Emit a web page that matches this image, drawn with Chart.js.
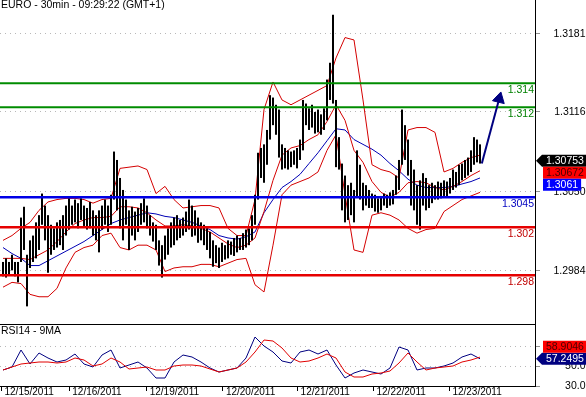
<!DOCTYPE html>
<html><head><meta charset="utf-8">
<script src="https://cdn.jsdelivr.net/npm/chart.js@4.4.1/dist/chart.umd.min.js"></script>
<style>
html,body{margin:0;padding:0;background:#fff;}
#wrap{position:relative;width:586px;height:397px;overflow:hidden;background:#fff}
canvas{position:absolute;left:0}
</style></head><body>
<div id="wrap">
<canvas id="main" width="586" height="325" style="top:0;width:586px;height:325px"></canvas>
<canvas id="rsi" width="586" height="72" style="top:325px;width:586px;height:72px"></canvas>
</div>
<script>
// ---------------- DATA ----------------
const chartTitle = 'EURO - 30min - 09:29:22 (GMT+1)';
const rsiTitle = 'RSI14 - 9MA';

// 30-min bars: high / low
const highs = [1.2991,1.2994,1.2991,1.2997,1.2991,1.2991,1.3028,1.3037,1.2997,1.3009,
1.3013,1.3024,1.3030,1.3048,1.3038,1.3030,1.3022,1.3019,1.3024,1.3026,
1.3030,1.3038,1.3044,1.3038,1.3043,1.3040,1.3044,1.3038,1.3036,1.3041,
1.3034,1.3030,1.3034,1.3038,1.3043,1.3038,1.3047,1.3083,1.3076,1.3061,
1.3051,1.3043,1.3034,1.3037,1.3033,1.3036,1.3040,1.3044,1.3038,1.3030,
1.3024,1.3022,1.3009,1.3005,1.3013,1.3019,1.3024,1.3028,1.3030,1.3026,
1.3028,1.3033,1.3043,1.3038,1.3034,1.3028,1.3024,1.3022,1.3019,1.3016,
1.3009,1.3005,1.3003,1.3007,1.3005,1.3009,1.3008,1.3011,1.3013,1.3011,
1.3015,1.3018,1.3019,1.3030,1.3047,1.3082,1.3086,1.3089,1.3101,1.3130,
1.3128,1.3122,1.3118,1.3089,1.3086,1.3084,1.3083,1.3084,1.3086,1.3093,
1.3126,1.3123,1.3119,1.3122,1.3116,1.3118,1.3114,1.3119,1.3143,1.3157,
1.3197,1.3126,1.3095,1.3073,1.3063,1.3055,1.3057,1.3051,1.3084,1.3072,
1.3057,1.3055,1.3051,1.3048,1.3047,1.3044,1.3046,1.3048,1.3047,1.3049,
1.3051,1.3063,1.3076,1.3118,1.3105,1.3093,1.3076,1.3068,1.3055,1.3059,
1.3065,1.3061,1.3055,1.3057,1.3055,1.3058,1.3057,1.3059,1.3058,1.3061,
1.3068,1.3066,1.3072,1.3073,1.3076,1.3078,1.3084,1.3095,1.3093,1.3089];
const lows = [1.2979,1.2978,1.2980,1.2984,1.2979,1.2974,1.2991,1.3001,1.2954,1.2986,
1.2991,1.2994,1.3001,1.3022,1.3009,1.2982,1.2997,1.3001,1.3003,1.3005,
1.3001,1.3013,1.3018,1.3022,1.3024,1.3019,1.3026,1.3021,1.3018,1.3019,
1.3013,1.3009,1.2999,1.3018,1.3022,1.3016,1.3022,1.3043,1.3034,1.3019,
1.3009,1.3022,1.3001,1.3013,1.3009,1.3016,1.3022,1.3024,1.3019,1.3013,
1.3008,1.3001,1.2988,1.2978,1.2993,1.2997,1.3003,1.3005,1.3009,1.3011,
1.3013,1.3016,1.3018,1.3012,1.3013,1.3007,1.3009,1.3005,1.3001,1.2994,
1.2987,1.2990,1.2986,1.2991,1.2993,1.2994,1.2997,1.2996,1.2999,1.3001,
1.3001,1.3003,1.3005,1.3009,1.3022,1.3043,1.3061,1.3057,1.3072,1.3093,
1.3105,1.3097,1.3078,1.3068,1.3069,1.3068,1.3070,1.3072,1.3069,1.3076,
1.3084,1.3105,1.3101,1.3103,1.3098,1.3099,1.3097,1.3101,1.3109,1.3126,
1.3123,1.3070,1.3068,1.3034,1.3024,1.3026,1.3030,1.3024,1.3045,1.3043,
1.3034,1.3038,1.3036,1.3036,1.3033,1.3032,1.3034,1.3038,1.3036,1.3038,
1.3039,1.3047,1.3051,1.3072,1.3076,1.3063,1.3038,1.3034,1.3022,1.3018,
1.3038,1.3034,1.3036,1.3040,1.3043,1.3043,1.3044,1.3046,1.3045,1.3048,
1.3051,1.3053,1.3055,1.3059,1.3061,1.3063,1.3066,1.3072,1.3074,1.3073];

// indicator values, read every 3rd bar
const SAMPLE_STEP = 3;
const bbUpper = [1.3009,1.3013,1.3019,1.3024,1.3034,1.3041,1.3043,1.3044,1.3044,1.3043,
1.3040,1.3043,1.3044,1.3069,1.3070,1.3071,1.3068,1.3048,1.3054,1.3043,
1.3036,1.3037,1.3038,1.3038,1.3036,1.3019,1.3013,1.3013,1.3043,1.3118,
1.3141,1.3126,1.3122,1.3126,1.3130,1.3134,1.3138,1.3161,1.3178,1.3176,
1.3126,1.3072,1.3068,1.3066,1.3061,1.3101,1.3103,1.3103,1.3099,1.3066,
1.3069,1.3074,1.3078,1.3080];
const bbMiddle = [1.2994,1.2994,1.2994,1.2993,1.2997,1.3001,1.3008,1.3016,1.3023,1.3026,
1.3028,1.3028,1.3029,1.3037,1.3037,1.3036,1.3032,1.3026,1.3021,1.3021,
1.3022,1.3021,1.3019,1.3016,1.3011,1.3006,1.3003,1.3005,1.3011,1.3033,
1.3059,1.3080,1.3086,1.3088,1.3093,1.3097,1.3108,1.3122,1.3109,1.3084,
1.3074,1.3058,1.3049,1.3045,1.3049,1.3057,1.3058,1.3057,1.3053,1.3051,
1.3054,1.3058,1.3063,1.3067];
const bbLower = [1.2970,1.2974,1.2973,1.2964,1.2962,1.2962,1.2969,1.2986,1.2999,1.3003,
1.3005,1.3013,1.3015,1.3003,1.3001,1.3005,1.3005,1.3001,1.2983,1.2986,
1.2987,1.2987,1.2989,1.2989,1.2987,1.2990,1.2993,1.2994,1.2972,1.2966,
1.3005,1.3047,1.3055,1.3058,1.3061,1.3066,1.3084,1.3097,1.3047,1.3001,
1.2999,1.3030,1.3032,1.3030,1.3026,1.3019,1.3015,1.3018,1.3019,1.3033,
1.3038,1.3043,1.3046,1.3049];
const movingAvg = [1.3003,1.2998,1.2994,1.2988,1.2988,1.2992,1.2996,1.3000,1.3004,1.3008,
1.3013,1.3018,1.3023,1.3026,1.3028,1.3030,1.3032,1.3031,1.3029,1.3028,
1.3026,1.3024,1.3021,1.3018,1.3013,1.3011,1.3010,1.3012,1.3016,1.3032,
1.3043,1.3053,1.3058,1.3064,1.3073,1.3082,1.3092,1.3102,1.3101,1.3093,
1.3089,1.3085,1.3080,1.3073,1.3067,1.3060,1.3055,1.3053,1.3053,1.3053,
1.3054,1.3056,1.3058,1.3061];
const rsi14 = [46,49,66,52,63,58,54,56,62,52,
49,61,66,48,51,54,48,38,38,54,
61,59,54,48,44,46,48,58,79,70,
64,55,53,64,66,62,66,51,38,43,
46,44,42,48,69,66,46,48,48,50,
53,59,62,57.25];
const rsiMA9 = [46,49,52,53,54,54,53,54,58,56,
50,52,58,54,47,48,49,46,46,50,
51,51,50,47,44,46,48,54,64,76,
75,68,58,54,55,58,62,58,44,39,
39,42,43,45,53,63,54,46,48,49,
50,54,56,58.9];

// horizontal levels
const levelValues = [1.314, 1.312, 1.3045, 1.302, 1.298];
const levelLabels = ['1.314', '1.312', '1.3045', '1.302', '1.298'];

// axis ticks
const priceTicks = [1.2984, 1.3050, 1.3116, 1.3181];
const rsiTicks = [30, 50, 70];
const dayTickBars = [-0.5, 22.1, 47.9, 73.3, 98.2, 123.5, 148.8];
const dayLabels = ['12/15/2011','12/16/2011','12/19/2011','12/20/2011','12/21/2011','12/22/2011','12/23/2011'];

// last-value boxes
const priceLast = [1.30753, 1.30672, 1.3061];   // close, BB mid, MA
const priceLastText = ['1.30753', '1.30672', '1.3061'];
const rsiLast = [57.2495, 58.9046];             // RSI, MA9
const rsiLastText = ['57.2495', '58.9046'];

// projection arrow (bar index / price)
const arrowBars = [159.6, 165.4];
const arrowPrices = [1.3073, 1.3127];

// ---------------- STYLE / LAYOUT ----------------
const FONT = '"Liberation Sans", Arial, Helvetica, sans-serif';
Chart.defaults.font.family = FONT;
Chart.defaults.font.size = 10.5;
Chart.defaults.color = '#000';

const X_MIN = -1, X_MAX = 177.3333;
const Y_MAX = 1.32093, Y_MIN = 1.29393;
const RSI_MIN = 30, RSI_MAX = 91;

const levelColors = ['#008c00', '#008c00', '#0000e6', '#e60000', '#e60000'];
const levelTextColors = ['#008000', '#008000', '#0000c0', '#c00000', '#c00000'];
const levelWidths = [2, 2, 2.5, 2.5, 2.5];

const BAND_RED = '#d40000';
const MA_BLUE = '#0000b4';

const sampled = arr => arr.map((v, k) => ({x: k * SAMPLE_STEP, y: v}));

function fitY(s) { s.width = 51; s.paddingTop = 0; s.paddingBottom = 0; }

function drawAxisLabels(ctx, scale, values, fmt) {
  ctx.save();
  ctx.font = '10.5px ' + FONT;
  ctx.textAlign = 'right';
  ctx.textBaseline = 'middle';
  ctx.fillStyle = '#000';
  values.forEach(v => ctx.fillText(fmt(v), 585.5, scale.getPixelForValue(v) + 0.5));
  ctx.restore();
}

function drawBoxes(ctx, scale, values, texts, styles) {
  ctx.save();
  ctx.font = '10.5px ' + FONT;
  ctx.textBaseline = 'middle';
  ctx.textAlign = 'left';
  const p0 = scale.getPixelForValue(values[0]);
  let below = p0, above = p0;
  values.forEach((v, i) => {
    let y = p0;
    if (i > 0) {
      const py = scale.getPixelForValue(v);
      if (py >= p0) { y = Math.max(py, below + 12); below = y; }
      else { y = Math.min(py, above - 12); above = y; }
    }
    const tw = ctx.measureText(texts[i]).width;
    ctx.fillStyle = styles[i].bg;
    ctx.beginPath();
    if (i === 0) {
      ctx.moveTo(536, y);
      ctx.lineTo(542, y - 6);
      ctx.lineTo(586, y - 6);
      ctx.lineTo(586, y + 6);
      ctx.lineTo(542, y + 6);
      ctx.closePath();
    } else {
      ctx.rect(543, y - 6, Math.min(586 - 543, tw + 6), 12);
    }
    ctx.fill();
    ctx.fillStyle = styles[i].fg;
    ctx.fillText(texts[i], 546, y + 0.5);
  });
  ctx.restore();
}

const mainOverlay = {
  id: 'mainOverlay',
  afterDatasetsDraw(chart) {
    const {ctx, chartArea, scales} = chart;
    ctx.save();
    ctx.font = '10.5px ' + FONT;
    ctx.textAlign = 'right';
    ctx.textBaseline = 'top';
    levelValues.forEach((v, i) => {
      const y = scales.y.getPixelForValue(v);
      ctx.fillStyle = levelTextColors[i];
      ctx.fillText(levelLabels[i], chartArea.right - 1, y + 1.5);
    });
    ctx.textAlign = 'left';
    ctx.fillStyle = '#000';
    ctx.fillText(chartTitle, 1, 0);
    ctx.restore();
  },
  afterDraw(chart) {
    drawAxisLabels(chart.ctx, chart.scales.y, priceTicks, v => v.toFixed(4));
    drawBoxes(chart.ctx, chart.scales.y, priceLast, priceLastText, [
      {bg: '#000', fg: '#fff'}, {bg: '#ff0000', fg: '#4a0000'}, {bg: '#0000ff', fg: '#fff'}]);
  }
};

const rsiOverlay = {
  id: 'rsiOverlay',
  afterDatasetsDraw(chart) {
    const {ctx} = chart;
    ctx.save();
    ctx.font = '10.5px ' + FONT;
    ctx.textAlign = 'left';
    ctx.textBaseline = 'top';
    ctx.fillStyle = '#000';
    ctx.fillText(rsiTitle, 1, 1);
    ctx.restore();
  },
  afterDraw(chart) {
    drawAxisLabels(chart.ctx, chart.scales.y, rsiTicks, v => v.toFixed(1));
    drawBoxes(chart.ctx, chart.scales.y, rsiLast, rsiLastText, [
      {bg: '#000080', fg: '#fff'}, {bg: '#ff0000', fg: '#4a0000'}]);
  }
};

const lineDs = (data, color, width, order) => ({
  type: 'line', data, borderColor: color, borderWidth: width, pointRadius: 0,
  tension: 0, fill: false, order
});

// ---------------- MAIN CHART ----------------
const levelDatasets = levelValues.map((v, i) =>
  lineDs([{x: X_MIN, y: v}, {x: X_MAX, y: v}], levelColors[i], levelWidths[i], -1));

new Chart(document.getElementById('main'), {
  type: 'bar',
  data: {
    datasets: [
      ...levelDatasets,
      {
        type: 'line', order: -2,
        data: arrowBars.map((b, i) => ({x: b, y: arrowPrices[i]})),
        borderColor: '#000080', borderWidth: 2,
        pointRadius: [0, 7], pointStyle: 'triangle', pointRotation: 14,
        pointBackgroundColor: '#000080', pointBorderColor: '#000080', pointBorderWidth: 1,
        clip: false
      },
      {
        type: 'bar', order: 0,
        data: highs.map((h, i) => ({x: i, y: [lows[i], h]})),
        backgroundColor: '#000', borderWidth: 0, barThickness: 2, inflateAmount: 0
      },
      lineDs(sampled(bbUpper), BAND_RED, 1, 1),
      lineDs(sampled(bbMiddle), BAND_RED, 1, 1),
      lineDs(sampled(bbLower), BAND_RED, 1, 1),
      lineDs(sampled(movingAvg), MA_BLUE, 1, 1)
    ]
  },
  options: {
    responsive: false, animation: false, events: [],
    layout: {padding: {left: 0, right: 0, top: 0, bottom: 1}, autoPadding: false},
    plugins: {legend: {display: false}, tooltip: {enabled: false}},
    scales: {
      x: {
        type: 'linear', min: X_MIN, max: X_MAX, offset: false,
        ticks: {display: false},
        grid: {display: false, drawTicks: false},
        border: {display: true, color: '#000', width: 1},
        afterFit: s => { s.height = 0; }
      },
      y: {
        type: 'linear', position: 'right', min: Y_MIN, max: Y_MAX,
        afterBuildTicks: s => { s.ticks = priceTicks.map(v => ({value: v})); },
        ticks: {display: false},
        grid: {color: '#b8b8b8', tickColor: '#909090', tickLength: 5, tickBorderDash: [], drawOnChartArea: true, drawTicks: true},
        border: {display: true, color: '#000', width: 1, dash: [1, 4]},
        afterFit: fitY
      }
    }
  },
  plugins: [mainOverlay]
});

// ---------------- RSI CHART ----------------
new Chart(document.getElementById('rsi'), {
  type: 'line',
  data: {
    datasets: [
      lineDs(sampled(rsi14), '#000080', 1, 1),
      lineDs(sampled(rsiMA9), '#e00000', 1, 0)
    ]
  },
  options: {
    responsive: false, animation: false, events: [],
    layout: {padding: 0, autoPadding: false},
    plugins: {legend: {display: false}, tooltip: {enabled: false}},
    scales: {
      x: {
        type: 'linear', min: X_MIN, max: X_MAX, offset: false,
        afterBuildTicks: s => { s.ticks = dayTickBars.map(v => ({value: v})); },
        ticks: {
          callback: (v, i) => dayLabels[i], align: 'start', labelOffset: 3, padding: -5,
          autoSkip: false, maxRotation: 0, minRotation: 0, color: '#000', font: {size: 10}
        },
        grid: {drawOnChartArea: false, drawTicks: true, tickLength: 5, tickColor: '#000'},
        border: {display: true, color: '#000', width: 1},
        afterFit: s => { s.height = 11; s.paddingLeft = 0; s.paddingRight = 0; }
      },
      y: {
        type: 'linear', position: 'right', min: RSI_MIN, max: RSI_MAX,
        afterBuildTicks: s => { s.ticks = rsiTicks.map(v => ({value: v})); },
        ticks: {display: false},
        grid: {color: '#b8b8b8', tickColor: '#909090', tickLength: 5, tickBorderDash: [], drawOnChartArea: true, drawTicks: true},
        border: {display: true, color: '#000', width: 1, dash: [1, 4]},
        afterFit: fitY
      }
    }
  },
  plugins: [rsiOverlay]
});
</script>
</body></html>
